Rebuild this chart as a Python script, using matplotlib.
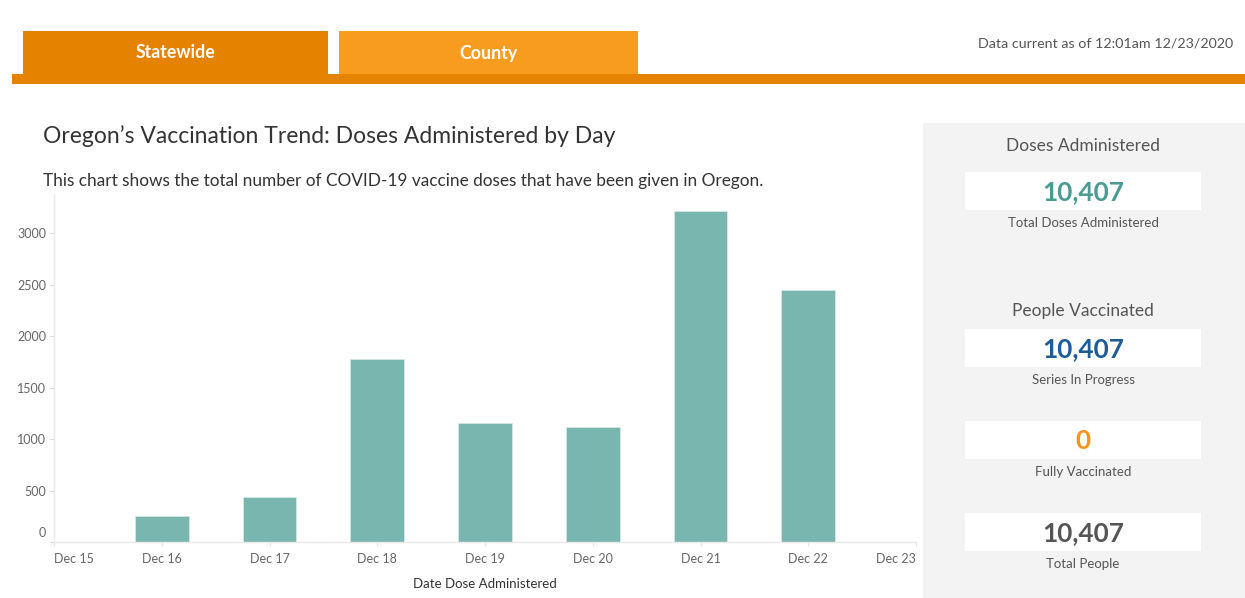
import matplotlib
matplotlib.use("Agg")
import matplotlib.pyplot as plt
from matplotlib.patches import Rectangle

# ---------------- data ----------------
day_numbers = [15, 16, 17, 18, 19, 20, 21, 22, 23]
day_labels = ["Dec 15", "Dec 16", "Dec 17", "Dec 18", "Dec 19", "Dec 20", "Dec 21", "Dec 22", "Dec 23"]
bar_days = [16, 17, 18, 19, 20, 21, 22]
doses = [253, 436, 1776, 1154, 1121, 3217, 2450]
y_ticks = [0, 500, 1000, 1500, 2000, 2500, 3000]

tab_labels = ["Statewide", "County"]
updated_text = "Data current as of 12:01am 12/23/2020"
title = "Oregon\u2019s Vaccination Trend: Doses Administered by Day"
subtitle = "This chart shows the total number of COVID-19 vaccine doses that have been given in Oregon."
x_title = "Date Dose Administered"

section_titles = ["Doses Administered", "People Vaccinated"]
kpi_values = [10407, 10407, 0, 10407]
kpi_captions = ["Total Doses Administered", "Series In Progress", "Fully Vaccinated", "Total People"]

plt.rcParams['font.family'] = ['Lato', 'DejaVu Sans']

W, H = 1245, 598
fig = plt.figure(figsize=(W / 100, H / 100), dpi=100)
fig.patch.set_facecolor("white")

# overlay in pixel coordinates
ov = fig.add_axes([0, 0, 1, 1], zorder=0)
ov.set_xlim(0, W)
ov.set_ylim(H, 0)
ov.axis("off")

dark_orange = "#e58300"
light_orange = "#f89c1f"
# tabs
ov.add_patch(Rectangle((23, 31), 305, 44, color=dark_orange, lw=0))
ov.add_patch(Rectangle((339, 31), 299, 44, color=light_orange, lw=0))
ov.add_patch(Rectangle((12, 74), W - 12, 10, color=dark_orange, lw=0))
ov.text(176, 53, tab_labels[0], color="white", fontsize=12.8, fontweight="bold", ha="center", va="center")
ov.text(489, 53, tab_labels[1], color="white", fontsize=12.8, fontweight="bold", ha="center", va="center")
ov.text(1233, 43, updated_text, color="#555555", fontsize=10.3, ha="right", va="center")

# titles
ov.text(43, 136, title, color="#333333", fontsize=16.5, ha="left", va="center")
ov.text(43, 181, subtitle, color="#333333", fontsize=12.4, ha="left", va="center")
ov.text(485, 584, x_title, color="#333333", fontsize=9.5, ha="center", va="center")

# right panel
ov.add_patch(Rectangle((923, 123), W - 923, H - 123, color="#f3f3f3", lw=0))
cx = 1083
ov.text(cx, 146, section_titles[0], color="#555555", fontsize=12.5, ha="center", va="center")
ov.text(cx, 311, section_titles[1], color="#555555", fontsize=12.5, ha="center", va="center")
box_tops = [172, 329, 421, 513]
value_colors = ["#4a9b92", "#1d5c96", "#f7931e", "#555555"]
caption_y = [223, 380, 472, 564]
for top, val, col, cap, cy in zip(box_tops, kpi_values, value_colors, kpi_captions, caption_y):
    ov.add_patch(Rectangle((965, top), 236, 38, color="white", lw=0))
    ov.text(cx, top + 20, f"{val:,}", color=col, fontsize=18.8, fontweight="bold", ha="center", va="center")
    ov.text(cx, cy, cap, color="#555555", fontsize=9.5, ha="center", va="center")

# ---------------- chart ----------------
left, right, top_px, bottom_px = 54, 916, 195, 542
ax = fig.add_axes([left / W, 1 - bottom_px / H, (right - left) / W, (bottom_px - top_px) / H], zorder=1)
ax.set_facecolor("none")
ax.bar(bar_days, doses, width=0.5, color="#79b6af", edgecolor="#d5e9e6", linewidth=0.6)
ax.set_xlim(day_numbers[0], day_numbers[-1])
ax.set_ylim(0, 3369)
ax.set_xticks(day_numbers, day_labels)
ax.set_yticks(y_ticks, [str(v) if v != 0 else "" for v in y_ticks])
ax.tick_params(axis="x", length=3, color="#e6e6e6", labelcolor="#666666", labelsize=9, pad=5)
ax.tick_params(axis="y", length=3, color="#cfdbe6", labelcolor="#666666", labelsize=9, pad=2.5)
ax.annotate("0", xy=(0, 0), xycoords=("axes fraction", "data"), xytext=(-8, 9),
            textcoords="offset pixels", ha="right", va="center", color="#666666", fontsize=9)
xt = ax.xaxis.get_major_ticks()
xt[0].label1.set_horizontalalignment("left")
xt[-1].label1.set_horizontalalignment("right")
for s in ["top", "right"]:
    ax.spines[s].set_visible(False)
for s in ["left", "bottom"]:
    ax.spines[s].set_color("#eaeaea")
    ax.spines[s].set_linewidth(1)

fig.savefig("out.png", dpi=100, facecolor="white")
